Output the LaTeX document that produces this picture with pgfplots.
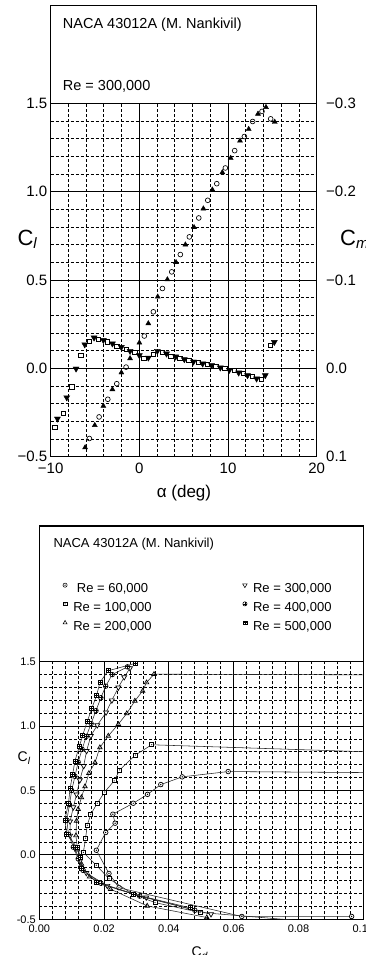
\documentclass[border=0pt]{standalone}
\usepackage{fontspec}
\setmainfont{Liberation Sans}
\usepackage{pgfplots}
\pgfplotsset{compat=1.18}

% hollow markers with a dot / plus inside
\pgfdeclareplotmark{odot}{%
  \pgfpathcircle{\pgfpointorigin}{\pgfplotmarksize}\pgfusepathqfillstroke
  \pgfscope\pgfsetfillcolor{black}%
  \pgfpathcircle{\pgfpointorigin}{0.32\pgfplotmarksize}\pgfusepathqfill\endpgfscope}
\pgfdeclareplotmark{sqdot}{%
  \pgfpathrectangle{\pgfpoint{-\pgfplotmarksize}{-\pgfplotmarksize}}{\pgfpoint{2\pgfplotmarksize}{2\pgfplotmarksize}}\pgfusepathqfillstroke
  \pgfscope\pgfsetfillcolor{black}%
  \pgfpathcircle{\pgfpointorigin}{0.32\pgfplotmarksize}\pgfusepathqfill\endpgfscope}
\pgfdeclareplotmark{oplusw}{%
  \pgfpathcircle{\pgfpointorigin}{\pgfplotmarksize}\pgfusepathqfillstroke
  \pgfpathmoveto{\pgfpoint{-\pgfplotmarksize}{0pt}}\pgfpathlineto{\pgfpoint{\pgfplotmarksize}{0pt}}%
  \pgfpathmoveto{\pgfpoint{0pt}{-\pgfplotmarksize}}\pgfpathlineto{\pgfpoint{0pt}{\pgfplotmarksize}}\pgfusepathqstroke}
\pgfdeclareplotmark{sqplus}{%
  \pgfpathrectangle{\pgfpoint{-\pgfplotmarksize}{-\pgfplotmarksize}}{\pgfpoint{2\pgfplotmarksize}{2\pgfplotmarksize}}\pgfusepathqfillstroke
  \pgfpathmoveto{\pgfpoint{-\pgfplotmarksize}{0pt}}\pgfpathlineto{\pgfpoint{\pgfplotmarksize}{0pt}}%
  \pgfpathmoveto{\pgfpoint{0pt}{-\pgfplotmarksize}}\pgfpathlineto{\pgfpoint{0pt}{\pgfplotmarksize}}\pgfusepathqstroke}
\pgfdeclareplotmark{tridown}{%
  \pgfpathmoveto{\pgfpointpolar{270}{1.2\pgfplotmarksize}}%
  \pgfpathlineto{\pgfpointpolar{30}{1.2\pgfplotmarksize}}%
  \pgfpathlineto{\pgfpointpolar{150}{1.2\pgfplotmarksize}}%
  \pgfpathclose\pgfusepathqfillstroke}

\newcommand{\coef}[3]{{\fontsize{#1}{#1}\selectfont C}\raisebox{-0.3em}{\fontsize{#2}{#2}\selectfont\itshape #3}}

% ---- lift and moment, Re = 300,000 ----
\pgfplotstableread{
a    cl
-5.64 -0.397
-4.54 -0.275
-3.56 -0.175
-2.55 -0.087
-1.50 0.007
0.56 0.183
1.58 0.320
2.60 0.452
3.65 0.546
4.62 0.644
5.64 0.744
6.70 0.851
7.71 0.951
8.73 1.045
9.70 1.134
10.75 1.232
11.84 1.312
12.78 1.397
13.83 1.454
14.81 1.412
}\clruna
\pgfplotstableread{
a    cl
-6.12 -0.448
-5.03 -0.322
-4.06 -0.213
-3.04 -0.119
-2.03 -0.024
-1.05 0.056
0.00 0.145
1.01 0.254
2.07 0.405
3.16 0.503
4.14 0.600
5.19 0.700
6.17 0.798
7.22 0.904
8.23 1.011
9.36 1.109
10.30 1.190
11.35 1.288
12.33 1.354
13.38 1.440
14.28 1.478
15.27 1.394
}\clrunb
\pgfplotstableread{
a    cm
-9.54 0.067
-8.57 0.051
-7.62 0.021
-6.60 -0.015
-5.67 -0.031
-4.62 -0.033
-3.60 -0.030
-2.55 -0.025
-1.50 -0.0215
-0.52 -0.018
0.50 -0.011
1.55 -0.016
2.57 -0.018
3.54 -0.014
4.56 -0.011
5.58 -0.009
6.63 -0.0064
7.64 -0.0045
8.62 -0.0026
9.63 0.0004
10.67 0.0023
11.68 0.0056
12.74 0.0087
13.75 0.0124
14.76 -0.026
}\cmruna
\pgfplotstableread{
a    cm
-9.24 0.057
-8.19 0.033
-7.14 0.0004
-6.16 -0.027
-5.11 -0.0347
-4.06 -0.032
-3.04 -0.028
-2.03 -0.024
-1.05 -0.0196
0.00 -0.0147
1.01 -0.012
2.03 -0.0196
3.06 -0.0166
4.10 -0.0132
5.07 -0.0102
6.10 -0.0075
7.14 -0.0053
8.15 -0.0034
9.13 -0.0008
10.15 0.0019
11.20 0.0049
12.20 0.0079
13.22 0.0117
14.20 0.0079
15.22 -0.0297
}\cmrunb

% ---- drag polars ----
\pgfplotstableread{
cd cl
0.0964 -0.478
0.0625 -0.478
0.0246 -0.255
0.0215 -0.144
0.0176 0.036
0.0205 0.174
0.0234 0.246
0.0227 0.316
0.0290 0.401
0.0334 0.470
0.0375 0.546
0.0441 0.606
0.0583 0.647
0.1500 0.630
}\polA
\pgfplotstableread{
cd cl
0.0900 -0.530
0.0496 -0.447
0.0357 -0.370
0.0290 -0.305
0.0215 -0.185
0.0176 -0.080
0.0136 0.020
0.0143 0.130
0.0148 0.231
0.0159 0.316
0.0179 0.401
0.0202 0.489
0.0231 0.575
0.0248 0.660
0.0297 0.776
0.0347 0.855
0.1500 0.760
}\polB
\pgfplotstableread{
cd cl
0.0517 -0.486
0.0333 -0.396
0.0220 -0.266
0.0155 -0.170
0.0130 -0.070
0.0118 0.040
0.0113 0.150
0.0115 0.264
0.0120 0.355
0.0130 0.446
0.0141 0.531
0.0153 0.634
0.0172 0.717
0.0187 0.834
0.0213 0.924
0.0244 1.015
0.0270 1.098
0.0295 1.196
0.0319 1.273
0.0331 1.338
0.0354 1.403
0.2000 1.390
}\polC
\pgfplotstableread{
cd cl
0.0530 -0.460
0.0330 -0.330
0.0210 -0.240
0.0145 -0.140
0.0125 -0.050
0.0110 0.050
0.0095 0.150
0.0095 0.260
0.0105 0.370
0.0115 0.470
0.0125 0.580
0.0137 0.690
0.0146 0.807
0.0159 0.924
0.0179 1.007
0.0206 1.106
0.0224 1.200
0.0244 1.300
0.0262 1.380
0.0280 1.450
}\polD
\pgfplotstableread{
cd cl
0.0480 -0.430
0.0310 -0.320
0.0190 -0.220
0.0135 -0.120
0.0120 -0.030
0.0105 0.060
0.0090 0.160
0.0085 0.270
0.0093 0.390
0.0100 0.500
0.0110 0.610
0.0120 0.720
0.0132 0.820
0.0145 0.920
0.0160 1.020
0.0175 1.120
0.0190 1.220
0.0205 1.310
0.0225 1.400
0.0272 1.460
}\polE
\pgfplotstableread{
cd cl
0.0465 -0.410
0.0290 -0.305
0.0177 -0.214
0.0131 -0.106
0.0128 -0.020
0.0117 0.057
0.0085 0.161
0.0079 0.272
0.0090 0.401
0.0095 0.516
0.0103 0.627
0.0110 0.730
0.0124 0.846
0.0134 0.929
0.0148 1.036
0.0162 1.137
0.0177 1.240
0.0187 1.338
0.0212 1.429
0.0297 1.488
}\polF

\pgfplotsset{
  chartgrid/.style={
    grid=both,
    major grid style={black, line width=0.9pt},
    minor grid style={black, line width=0.9pt, dash pattern=on 3pt off 2pt},
    major tick length=0pt, minor tick length=0pt,
    axis line style={line width=1.1pt},
  },
  polar/.style={color=black!85, line width=0.55pt, mark size=2.3pt,
    mark options={fill=white, draw=black, solid, line width=0.7pt}},
}

\begin{document}
\begin{tikzpicture}[x=1pt,y=1pt]
\useasboundingbox (0,0) rectangle (366,955);

% ================= upper chart =================
\draw[line width=1.1pt] (50.7,851.7) rectangle (316.7,949.3);
\node[anchor=base west, inner sep=0pt, font=\fontsize{14.5}{17}\selectfont] at (62.7,926.5) {NACA 43012A (M. Nankivil)};
\node[anchor=base west, inner sep=0pt, font=\fontsize{14.5}{17}\selectfont] at (62.7,864.8) {Re = 300,000};

\begin{axis}[
  at={(50.7pt,498.3pt)}, anchor=south west, scale only axis,
  width=266pt, height=353.4pt,
  xmin=-10, xmax=20, ymin=-0.5, ymax=1.5,
  xtick={-10,0,10,20}, xticklabels={−10,0,10,20},
  ytick={-0.5,0,0.5,1,1.5}, yticklabels={−0.5,0.0,0.5,1.0,1.5},
  minor x tick num=4, minor y tick num=4,
  chartgrid,
  tick label style={font=\fontsize{15}{18}\selectfont},
  xticklabel style={yshift=-3pt},
  clip=false,
]
\addplot[only marks, mark=o, mark size=2.4pt, mark options={fill=white, line width=0.65pt}] table[x=a,y=cl] {\clruna};
\addplot[only marks, mark=triangle*, mark size=2.9pt, mark options={fill=black}] table[x=a,y=cl] {\clrunb};
\end{axis}

\begin{axis}[
  at={(50.7pt,498.3pt)}, anchor=south west, scale only axis,
  width=266pt, height=353.4pt,
  xmin=-10, xmax=20, ymin=-0.3, ymax=0.1, y dir=reverse,
  axis x line=none, axis y line*=right,
  axis line style={line width=1.1pt},
  ytick={-0.3,-0.2,-0.1,0,0.1}, yticklabels={−0.3,−0.2,−0.1,0.0,0.1},
  major tick length=0pt,
  tick label style={font=\fontsize{15}{18}\selectfont},
  yticklabel style={xshift=6pt},
  clip=false,
]
\addplot[only marks, mark=square*, mark size=2.1pt, mark options={fill=white, line width=0.65pt}] table[x=a,y=cm] {\cmruna};
\addplot[only marks, mark=tridown, mark size=2.9pt, mark options={fill=black}] table[x=a,y=cm] {\cmrunb};
\end{axis}

\node[anchor=base west, inner sep=0pt] at (17.3,709.6) {\coef{22}{15}{l}};
\node[anchor=base west, inner sep=0pt] at (340,709.6) {\coef{22}{15}{m}};
\node[anchor=base, inner sep=0pt, font=\fontsize{17}{20}\selectfont] at (184,457.3) {α (deg)};

% ================= lower chart =================
\draw[line width=1.1pt] (39.3,293.3) rectangle (363.3,429);
\node[anchor=base west, inner sep=0pt, font=\fontsize{13}{15}\selectfont] at (53.3,407) {NACA 43012A (M. Nankivil)};

\begin{axis}[
  at={(39.3pt,35.7pt)}, anchor=south west, scale only axis,
  width=324pt, height=257.6pt,
  xmin=0, xmax=0.1, ymin=-0.5, ymax=1.5,
  xtick={0,0.02,0.04,0.06,0.08,0.1}, xticklabels={0.00,0.02,0.04,0.06,0.08,0.10},
  ytick={-0.5,0,0.5,1,1.5}, yticklabels={-0.5,0.0,0.5,1.0,1.5},
  minor x tick num=4, minor y tick num=4,
  chartgrid,
  tick label style={font=\fontsize{11}{13}\selectfont},
  xticklabel style={yshift=-2pt},
  clip marker paths=true,
  legend columns=2,
  legend style={draw=none, fill=none, at={(0.0660,1.306)}, anchor=north west,
    inner sep=0pt, row sep=6.3pt, font=\fontsize{13}{15}\selectfont,
    nodes={inner ysep=0pt, inner xsep=4pt, text height=9.5pt, text depth=2.5pt},
    /tikz/every even column/.append style={column sep=85pt}},
  legend image code/.code={\path (0pt,0pt) (8pt,0pt);
    \draw[#1, only marks] plot coordinates {(4pt,4.3pt)};},
]
\addlegendimage{mark=odot, mark size=2.1pt, mark options={fill=white, line width=0.55pt}}
\addlegendentry{Re = 60,000}
\addlegendimage{mark=tridown, mark size=2.1pt, mark options={fill=white, line width=0.55pt}}
\addlegendentry{Re = 300,000}
\addlegendimage{mark=sqdot, mark size=1.9pt, mark options={fill=white, line width=0.55pt}}
\addlegendentry{Re = 100,000}
\addlegendimage{mark=oplusw, mark size=2.1pt, mark options={fill=white, line width=0.55pt}}
\addlegendentry{Re = 400,000}
\addlegendimage{mark=triangle, mark size=2.3pt, mark options={fill=white, line width=0.55pt}}
\addlegendentry{Re = 200,000}
\addlegendimage{mark=sqplus, mark size=1.9pt, mark options={fill=white, line width=0.55pt}}
\addlegendentry{Re = 500,000}

\addplot[polar, mark=odot, forget plot] table[x=cd,y=cl] {\polA};
\addplot[polar, mark=sqdot, mark size=2.0pt, forget plot] table[x=cd,y=cl] {\polB};
\addplot[polar, mark=triangle, mark size=2.6pt, forget plot] table[x=cd,y=cl] {\polC};
\addplot[polar, mark=tridown, mark size=2.4pt, forget plot] table[x=cd,y=cl] {\polD};
\addplot[polar, mark=oplusw, forget plot] table[x=cd,y=cl] {\polE};
\addplot[polar, mark=sqplus, mark size=2.0pt, forget plot] table[x=cd,y=cl] {\polF};
\end{axis}

\node[anchor=base west, inner sep=0pt] at (17.5,193.3) {\coef{14}{10}{l}};
\node[anchor=base west, inner sep=0pt] at (191.5,-1.5) {\coef{14}{10}{d}};
\end{tikzpicture}
\end{document}
